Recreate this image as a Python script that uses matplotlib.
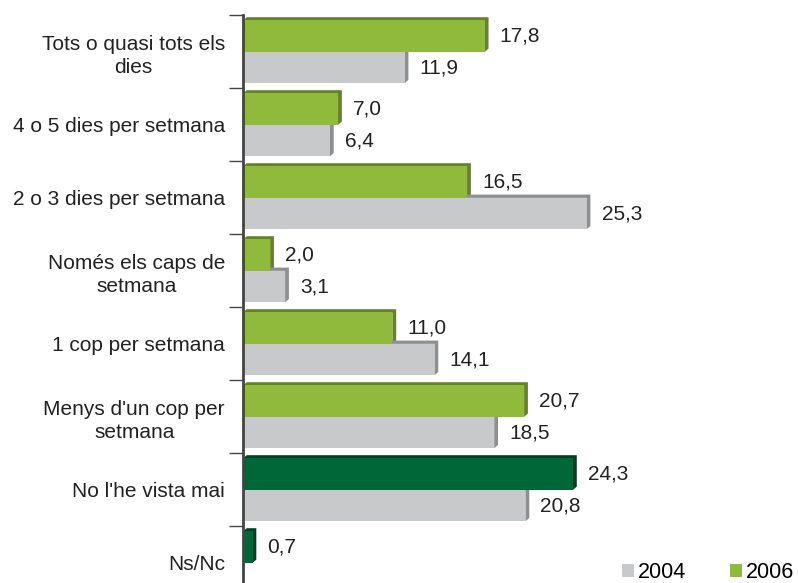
import matplotlib
matplotlib.use("Agg")
import numpy as np
import matplotlib.pyplot as plt
from matplotlib.patches import Polygon, Patch

plt.rcParams['font.family'] = ['Liberation Sans', 'DejaVu Sans']

categories = ["Tots o quasi tots els\ndies", "4 o 5 dies per setmana", "2 o 3 dies per setmana",
              "Només els caps de\nsetmana", "1 cop per setmana", "Menys d'un cop per\nsetmana",
              "No l'he vista mai", "Ns/Nc"]
values_2006 = [17.8, 7.0, 16.5, 2.0, 11.0, 20.7, 24.3, 0.7]
values_2004 = [11.9, 6.4, 25.3, 3.1, 14.1, 18.5, 20.8, None]

light_green, light_green_dk = '#8fba3c', '#64822a'
dark_green, dark_green_dk = '#006838', '#003f22'
grey, grey_dk = '#c8c9cb', '#8e8f91'

fig = plt.figure(figsize=(7.98, 5.83), dpi=100)
# the axis runs past the bottom of the picture in the original
ax = fig.add_axes([243 / 798, (583 - 599) / 583, 555 / 798, 584 / 583])
ax.set_xlim(0, 555 / 13.58)
ax.set_ylim(len(categories) - 0.5, -0.5)

h = 0.43
dx, dy = 0.28, 0.045


def bar3d(y, v, face, edge):
    top, bot = y - h / 2, y + h / 2
    depth = Polygon([(0, top), (dx, top - dy), (v + dx, top - dy), (v + dx, bot - dy), (v, bot), (v, top)],
                    closed=True, facecolor=edge, edgecolor='none', zorder=2)
    ax.add_patch(depth)
    ax.barh(y, v, height=h, color=face, zorder=3)


def fmt(v):
    return f"{v:.1f}".replace('.', ',')


y = np.arange(len(categories))
for i, (v06, v04) in enumerate(zip(values_2006, values_2004)):
    if i >= 6:
        fc, ec = dark_green, dark_green_dk
    else:
        fc, ec = light_green, light_green_dk
    yg = i - 0.21
    bar3d(yg, v06, fc, ec)
    ax.text(v06 + 1.1, yg, fmt(v06), va='center', ha='left', fontsize=15, color='#222222')
    if v04 is not None:
        yc = i + 0.22
        bar3d(yc, v04, grey, grey_dk)
        ax.text(v04 + 1.1, yc, fmt(v04), va='center', ha='left', fontsize=15, color='#222222')

for s in ['top', 'right', 'bottom']:
    ax.spines[s].set_visible(False)
ax.spines['left'].set_color('#444444')
ax.spines['left'].set_linewidth(2.0)
ax.spines['left'].set_zorder(5)
ax.set_xticks([])
ax.set_yticks(np.arange(len(categories) + 1) - 0.5)
ax.set_yticklabels([])
ax.set_yticks(y, minor=True)
ax.set_yticklabels(categories, minor=True, fontsize=15, multialignment='center', color='#222222',
                   linespacing=1.3)
ax.tick_params(axis='y', which='major', length=10, width=1, color='#444444')
ax.tick_params(axis='y', which='minor', length=0, pad=13)

handles = [Patch(facecolor=grey, label='2004'), Patch(facecolor=light_green, label='2006')]
fig.legend(handles=handles, loc='center left', bbox_to_anchor=(622 / 798, 1 - 573 / 583), ncol=2,
           frameon=False, borderpad=0, borderaxespad=0,
           fontsize=15.5, handlelength=0.56, handleheight=0.56, handletextpad=0.2, columnspacing=2.0)

fig.savefig('out.png', dpi=100)
